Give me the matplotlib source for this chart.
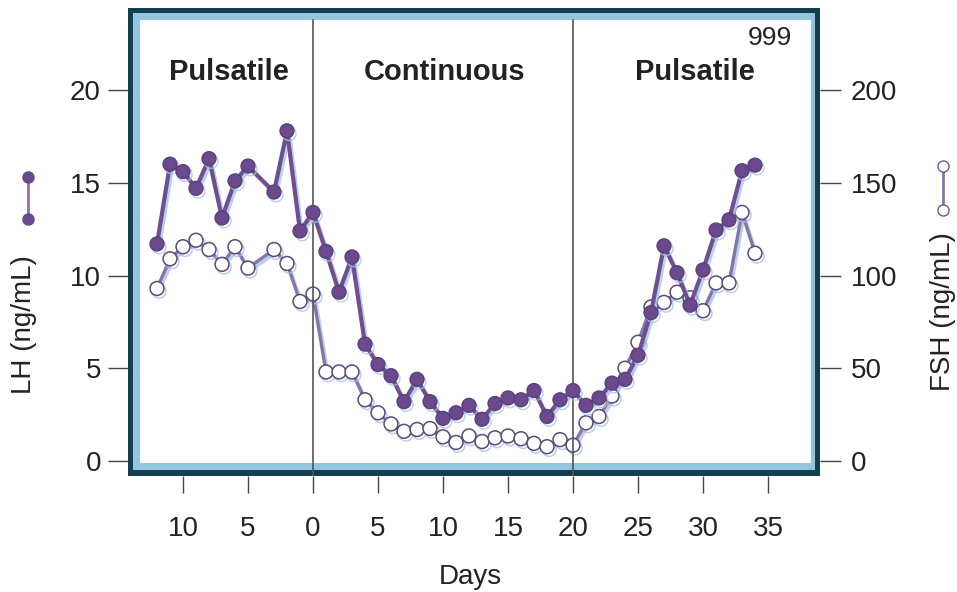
import matplotlib
matplotlib.use("Agg")
import matplotlib.pyplot as plt
import matplotlib.patheffects as pe
from matplotlib.patches import Rectangle
from matplotlib.lines import Line2D

plt.rcParams["font.family"] = ["Liberation Sans", "DejaVu Sans"]

# days relative to start of continuous infusion (day -4 not sampled)
days = [-12, -11, -10, -9, -8, -7, -6, -5, -3, -2, -1, 0,
        1, 2, 3, 4, 5, 6, 7, 8, 9, 10, 11, 12, 13, 14, 15, 16, 17, 18, 19, 20,
        21, 22, 23, 24, 25, 26, 27, 28, 29, 30, 31, 32, 33, 34]
lh = [11.7, 16.0, 15.6, 14.7, 16.3, 13.1, 15.1, 15.9, 14.5, 17.8, 12.4, 13.4,
      11.3, 9.1, 11.0, 6.3, 5.2, 4.6, 3.2, 4.4, 3.2, 2.3, 2.6, 3.0, 2.25, 3.1,
      3.4, 3.3, 3.8, 2.4, 3.3, 3.8,
      3.0, 3.4, 4.2, 4.4, 5.7, 8.0, 11.6, 10.15, 8.4, 10.3, 12.45, 13.0, 15.65, 15.95]
fsh = [93, 109, 115.5, 119, 114, 106, 115.5, 104, 114, 106.5, 86, 90,
       48, 48, 48, 33, 26, 20, 16, 17, 17.5, 13, 10, 13.5, 10.5, 12.5,
       13.5, 12, 9.5, 7.7, 11.5, 8.5,
       20.6, 24, 35, 50, 64, 83, 85.5, 91, 88, 81, 96, 96, 134, 112]

x_ticks = [-10, -5, 0, 5, 10, 15, 20, 25, 30, 35]
x_labels = ["10", "5", "0", "5", "10", "15", "20", "25", "30", "35"]
lh_ticks = [0, 5, 10, 15, 20]
fsh_ticks = [0, 50, 100, 150, 200]
phases = ["Pulsatile", "Continuous", "Pulsatile"]
phase_x = [-6.5, 10.15, 29.4]
switch_days = [0, 20]

W, H = 957, 592
fig = plt.figure(figsize=(W / 100, H / 100), dpi=100)


def fx(px):
    return px / W


def fy(py):
    return 1 - py / H


# frame: dark border, light blue band, white inside
def box(x0, y0, x1, y1, color, z):
    fig.patches.append(Rectangle((fx(x0), fy(y1)), fx(x1) - fx(x0), fy(y0) - fy(y1),
                                 transform=fig.transFigure, facecolor=color,
                                 edgecolor="none", zorder=z))


box(128, 8, 820, 476, "#123f50", -3)
box(133, 13, 815, 470, "#93c5de", -2)
box(140, 20, 811, 463, "white", -1)

ax = fig.add_axes([fx(128), fy(476), fx(820) - fx(128), fy(8) - fy(476)])
ax2 = ax.twinx()
ax.set_zorder(ax2.get_zorder() + 1)
for a in (ax, ax2):
    a.patch.set_visible(False)
    for s in a.spines.values():
        s.set_visible(False)

ax.set_xlim((128 - 313) / 13, (820 - 313) / 13)
ylo, yhi = (461 - 476) / 18.55, (461 - 8) / 18.55
ax.set_ylim(ylo, yhi)
ax2.set_ylim(ylo * 10, yhi * 10)

shadow = [pe.SimpleLineShadow(offset=(1.5, -2), shadow_color="#a9c2ea", alpha=0.8), pe.Normal()]

ax2.plot(days, fsh, color="#8576a8", lw=2.4, marker="o", ms=10,
         mfc="white", mec="#5a4a78", mew=1.1, path_effects=shadow, zorder=3)
ax.plot(days, lh, color="#6e5090", lw=3, marker="o", ms=10,
        mfc="#6a4a8c", mec="#5a3f7c", mew=1, path_effects=shadow, zorder=3)

for d in switch_days:
    ax.axvline(d, ymin=0, ymax=(476 - 20) / 468, color="#555555", lw=1.2, zorder=1)

ax.set_xticks(x_ticks)
ax.set_xticklabels(x_labels)
ax.set_yticks(lh_ticks)
ax2.set_yticks(fsh_ticks)
ax.tick_params(axis="x", length=12, width=1, color="#444444", pad=17,
               labelsize=20, labelcolor="#222222")
ax.tick_params(axis="y", length=14.5, width=1, color="#444444", pad=5,
               labelsize=20, labelcolor="#222222")
ax2.tick_params(axis="y", length=15, width=1, color="#444444", pad=7,
                labelsize=20, labelcolor="#222222")

bold = ["Liberation Sans Narrow", "Liberation Sans", "DejaVu Sans"]
for label, xp in zip(phases, phase_x):
    ax.text(xp, (476 - 72) / 468, label, transform=ax.get_xaxis_transform(),
            ha="center", va="center", fontsize=21, fontweight="bold",
            family=bold, color="#222222")
ax.text(35.15, (476 - 38) / 468, "999", transform=ax.get_xaxis_transform(),
        ha="center", va="center", fontsize=19, color="#222222")

fig.text(fx(470), fy(577), "Days", ha="center", va="center", fontsize=20, color="#222222")
fig.text(fx(24), fy(325), "LH (ng/mL)", rotation=90, ha="center", va="center",
         fontsize=20, color="#222222")
fig.text(fx(943), fy(312), "FSH (ng/mL)", rotation=90, ha="center", va="center",
         fontsize=20, color="#222222")

# key glyphs beside the axis titles
fig.add_artist(Line2D([fx(28), fx(28)], [fy(177), fy(219)], transform=fig.transFigure,
                      color="#8a72ad", lw=2, marker="o", ms=8,
                      mfc="#6a4a8c", mec="#6a4a8c"))
fig.add_artist(Line2D([fx(943), fx(943)], [fy(166), fy(210)], transform=fig.transFigure,
                      color="#8a72ad", lw=2, marker="o", ms=8,
                      mfc="white", mec="#6a5a88", mew=1))

fig.savefig("out.png", dpi=100)
